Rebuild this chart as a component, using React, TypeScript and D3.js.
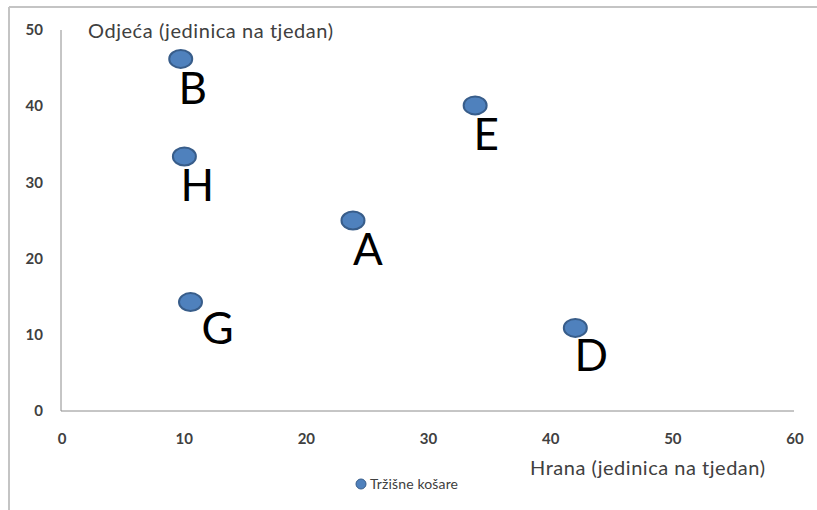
import React from "react";
import * as d3 from "d3";

// tržišne košare: hrana (x) i odjeća (y), jedinica na tjedan
const labels = ["B", "E", "H", "A", "G", "D"];
const hrana = [9.8, 33.9, 10.1, 23.9, 10.6, 42.1];
const odjeca = [46.2, 40.1, 33.4, 25.0, 14.3, 10.9];

const xTicks = [0, 10, 20, 30, 40, 50, 60];
const yTicks = [0, 10, 20, 30, 40, 50];

// label offsets (px) from the marker, as in the original
const labelDx: Record<string, number> = { B: 12, E: 11, H: 13, A: 15, G: 27, D: 16 };
const labelDy: Record<string, number> = { B: 45, E: 45, H: 45, A: 44, G: 42, D: 43 };

const W = 817;
const H = 510;
const font = "Lato, 'Open Sans', sans-serif";

const App = () => {
  const x = d3.scaleLinear().domain([0, 60]).range([61, 794]);
  const y = d3.scaleLinear().domain([0, 50]).range([411, 30]);

  return (
    <svg
      width={W}
      height={H}
      style={{ position: "absolute", left: 0, top: 0, background: "#fff" }}
      fontFamily={font}
    >
      {/* frame */}
      <line x1={9} y1={7} x2={W} y2={7} stroke="#c4c4c4" strokeWidth={2} />
      <line x1={9} y1={7} x2={9} y2={H} stroke="#c4c4c4" strokeWidth={2} />

      {/* axes */}
      <line x1={x(0)} y1={y(0)} x2={x(0)} y2={y(50)} stroke="#8c8c8c" strokeWidth={1} />
      <line x1={x(0)} y1={y(0)} x2={x(60)} y2={y(0)} stroke="#8c8c8c" strokeWidth={1} />

      {yTicks.map((t) => (
        <text
          key={"y" + t}
          x={43}
          y={y(t)}
          dy="0.35em"
          textAnchor="end"
          fontSize={15}
          fontWeight={700}
          fill="#404040"
        >
          {t}
        </text>
      ))}
      {xTicks.map((t) => (
        <text
          key={"x" + t}
          x={x(t) + 1}
          y={444}
          textAnchor="middle"
          fontSize={15}
          fontWeight={700}
          fill="#404040"
        >
          {t}
        </text>
      ))}

      {/* axis titles */}
      <text x={88} y={38} fontSize={20} fill="#404040" textLength={245}>
        Odjeća (jedinica na tjedan)
      </text>
      <text x={530} y={475} fontSize={20} fill="#404040" textLength={235}>
        Hrana (jedinica na tjedan)
      </text>

      {/* points */}
      {labels.map((l, i) => (
        <g key={l}>
          <ellipse
            cx={x(hrana[i])}
            cy={y(odjeca[i])}
            rx={11.5}
            ry={9}
            fill="#4f81bd"
            stroke="#385d8a"
            strokeWidth={2}
          />
          <text
            x={x(hrana[i]) + labelDx[l]}
            y={y(odjeca[i]) + labelDy[l]}
            textAnchor="middle"
            fontSize={44}
            fill="#000"
          >
            {l}
          </text>
        </g>
      ))}

      {/* legend */}
      <circle cx={361} cy={484} r={5} fill="#4f81bd" stroke="#385d8a" strokeWidth={1} />
      <text x={370} y={489} fontSize={14} fill="#404040" textLength={88}>
        Tržišne košare
      </text>
    </svg>
  );
};

export default App;
